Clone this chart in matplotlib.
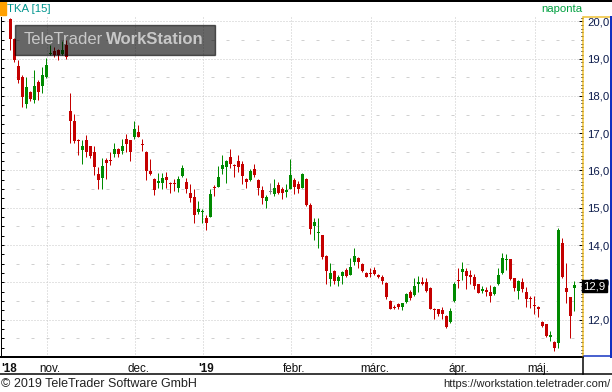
import numpy as np
import matplotlib.pyplot as plt
from matplotlib.lines import Line2D
from matplotlib.patches import Rectangle

plt.rcParams['font.family'] = ['Liberation Sans', 'DejaVu Sans']
plt.rcParams['lines.scale_dashes'] = False

# daily OHLC, TKA, Oct 2018 - May 2019 (one entry per trading day)
opens = [20.06, 19.53, 18.80, 18.51, 17.78, 18.10, 17.89, 18.37, 18.27, 18.51,
         19.13, 19.20, 19.23, 19.12, 19.36, 17.60, 17.33, 16.81, 16.55, 16.82,
         16.66, 16.49, 15.91, 15.79, 16.28, 16.28, 16.44, 16.58, 16.52, 16.84,
         16.82, 16.91, 17.02, 16.72, 16.50, 15.99, 15.77, 15.66, 15.66, 15.83,
         15.66, 15.66, 15.54, 15.85, 15.70, 15.39, 15.28, 14.90, 14.88, 14.73,
         14.76, 15.57, 15.57, 16.04, 16.10, 16.37, 16.15, 16.25, 16.17, 15.77,
         15.74, 16.04, 15.74, 15.48, 15.19, 15.42, 15.37, 15.61, 15.50, 15.43,
         15.50, 15.74, 15.64, 15.54, 15.77, 15.07, 14.52, 14.32, 14.27, 13.71,
         13.09, 13.30, 13.04, 13.17, 13.33, 13.20, 13.55, 13.66, 13.49, 13.26,
         13.25, 13.33, 13.20, 13.14, 12.99, 12.50, 12.33, 12.41, 12.35, 12.48,
         12.75, 12.66, 12.95, 13.00, 13.00, 12.86, 12.28, 12.28, 12.26, 12.11,
         11.93, 12.51, 13.05, 13.29, 13.30, 13.20, 13.15, 12.95, 12.77, 12.79,
         12.75, 12.68, 12.96, 13.26, 13.59, 13.62, 13.11, 12.78, 13.02, 12.75,
         12.57, 12.39, 12.35, 11.94, 11.88, 11.54, 11.41, 11.38, 14.06, 12.84,
         12.60, 12.85]
highs = [20.08, 19.55, 18.96, 18.55, 18.51, 18.12, 18.69, 18.43, 18.77, 19.02,
         19.36, 19.31, 19.25, 19.47, 19.50, 18.08, 17.51, 16.84, 16.82, 16.95,
         16.67, 16.66, 16.10, 16.33, 16.33, 16.50, 16.75, 16.59, 16.84, 16.98,
         16.83, 17.33, 17.22, 16.84, 16.53, 16.31, 15.79, 15.94, 15.92, 15.97,
         15.70, 15.76, 15.85, 16.15, 15.79, 15.63, 15.50, 15.18, 14.96, 14.82,
         15.50, 15.61, 16.12, 16.41, 16.28, 16.58, 16.17, 16.41, 16.25, 15.81,
         16.04, 16.17, 15.77, 15.59, 15.34, 15.67, 15.77, 15.70, 15.57, 15.64,
         16.31, 15.81, 15.72, 15.94, 15.79, 15.14, 14.72, 14.73, 14.28, 13.73,
         13.53, 13.33, 13.19, 13.30, 13.39, 13.66, 13.93, 13.69, 13.51, 13.28,
         13.39, 13.40, 13.22, 13.20, 13.02, 12.53, 12.39, 12.45, 12.45, 12.72,
         12.80, 13.13, 13.17, 13.15, 13.11, 12.88, 12.32, 12.30, 12.35, 12.13,
         12.32, 13.00, 13.38, 13.55, 13.38, 13.33, 13.22, 12.97, 12.91, 12.88,
         12.93, 12.90, 13.38, 13.79, 13.75, 13.63, 13.13, 13.06, 13.13, 12.88,
         12.63, 12.63, 12.37, 11.96, 11.89, 11.69, 11.43, 14.47, 14.18, 13.53,
         12.61, 13.03]
lows = [19.23, 18.91, 18.35, 17.71, 17.68, 17.86, 17.81, 17.89, 18.08, 18.48,
        19.10, 19.04, 18.96, 19.10, 18.99, 16.74, 16.75, 16.42, 16.17, 16.37,
        16.33, 15.88, 15.50, 15.50, 15.77, 16.15, 16.37, 16.35, 16.43, 16.50,
        16.26, 16.84, 16.89, 16.53, 15.75, 15.88, 15.34, 15.52, 15.50, 15.52,
        15.40, 15.46, 15.43, 15.83, 15.39, 15.16, 14.58, 14.83, 14.60, 14.40,
        14.74, 15.32, 15.57, 15.91, 15.67, 16.07, 15.83, 15.97, 15.65, 15.54,
        15.72, 15.83, 15.34, 15.10, 15.00, 15.37, 15.32, 15.37, 15.24, 15.30,
        15.50, 15.36, 15.39, 15.52, 15.05, 14.30, 14.14, 13.93, 13.63, 12.95,
        12.90, 12.96, 12.90, 12.96, 13.15, 13.20, 13.47, 13.39, 13.29, 13.14,
        13.15, 13.20, 13.11, 12.96, 12.56, 12.28, 12.28, 12.30, 12.26, 12.45,
        12.53, 12.63, 12.75, 12.93, 12.75, 12.29, 12.02, 12.10, 12.02, 11.77,
        11.90, 12.48, 12.84, 13.06, 12.81, 12.95, 12.82, 12.71, 12.71, 12.64,
        12.48, 12.66, 12.93, 13.22, 13.33, 13.06, 12.78, 12.55, 12.73, 12.35,
        12.32, 12.15, 12.08, 11.81, 11.53, 11.44, 11.17, 11.25, 13.13, 12.44,
        11.52, 12.24]
closes = [19.52, 18.96, 18.43, 17.98, 18.24, 17.92, 18.27, 18.10, 18.56, 18.83,
          19.16, 19.10, 19.10, 19.23, 19.04, 17.33, 16.80, 16.78, 16.66, 16.50,
          16.40, 16.10, 15.75, 16.12, 16.21, 16.26, 16.57, 16.44, 16.66, 16.71,
          16.50, 17.11, 16.91, 16.69, 15.99, 15.90, 15.48, 15.73, 15.79, 15.75,
          15.63, 15.63, 15.77, 16.07, 15.50, 15.25, 14.81, 14.96, 14.91, 14.60,
          15.37, 15.54, 15.83, 16.15, 16.25, 16.17, 16.13, 16.10, 15.86, 15.70,
          15.99, 15.88, 15.54, 15.27, 15.30, 15.42, 15.52, 15.39, 15.40, 15.48,
          15.88, 15.56, 15.50, 15.91, 15.07, 14.42, 14.63, 14.34, 13.69, 13.31,
          13.24, 13.04, 13.15, 13.29, 13.17, 13.42, 13.71, 13.55, 13.31, 13.15,
          13.23, 13.22, 13.14, 13.05, 12.62, 12.30, 12.32, 12.35, 12.44, 12.69,
          12.57, 12.90, 13.00, 12.95, 12.77, 12.30, 12.26, 12.15, 12.14, 11.80,
          12.23, 12.97, 13.04, 13.35, 13.17, 13.15, 12.90, 12.72, 12.82, 12.75,
          12.64, 12.88, 13.20, 13.66, 13.60, 13.08, 12.86, 13.04, 12.82, 12.55,
          12.55, 12.37, 12.28, 11.84, 11.56, 11.59, 11.25, 14.40, 13.15, 12.75,
          12.11, 12.92]

# index of the first trading day of each month
month_start = [10, 32, 49, 71, 91, 112, 132]
month_labels = ["nov.", "dec.", "'19", "febr.", "márc.", "ápr.", "máj."]
price_ticks = [12, 13, 14, 15, 16, 17, 18, 19, 20]
last_price = 12.9

W, H = 612, 392
PX = 0.72  # one pixel in points at 100 dpi

fig = plt.figure(figsize=(W / 100, H / 100), dpi=100)
fig.patch.set_facecolor('white')

def fx(px):
    return px / W

def fy(py):
    return 1 - py / H

ax = fig.add_axes([fx(1), fy(357), fx(582), 340 / H])
ax.set_xlim(-2.325, 143.175)
ax.set_ylim(11.0, 20.115)

# grid
for p in price_ticks:
    ax.axhline(p, color='#c8c8c8', lw=PX, ls=(0, (PX, 2 * PX)), zorder=0)
    ax.axhline(p - 0.5, color='#d0d0d0', lw=PX, ls=(0, (3 * PX, 12 * PX)), zorder=0)
for m in month_start:
    ax.axvline(m - 0.75, color='#c8c8c8', lw=PX, ls=(0, (PX, 2 * PX)), zorder=0)

# candles
o = np.array(opens)
h = np.array(highs)
l = np.array(lows)
c = np.array(closes)
x = np.arange(len(o))
cols = np.where(c > o, '#008a00', np.where(c < o, '#c40000', '#808080'))
ax.vlines(x, l, h, colors=cols, lw=PX, zorder=2)
body = np.maximum(np.abs(c - o), 0.03)
ax.bar(x, body, bottom=np.minimum(o, c), width=0.75, color=cols, lw=0, zorder=3)

# axis styling
ax.spines['top'].set_visible(False)
ax.spines['right'].set_visible(False)
ax.spines['left'].set_color('black')
ax.spines['left'].set_linewidth(PX)
ax.spines['bottom'].set_color('black')
ax.spines['bottom'].set_linewidth(2 * PX)
ax.set_yticks(np.arange(11.25, 20.1, 0.25))
ax.set_yticklabels([])
ax.tick_params(axis='y', direction='in', length=3 * PX, width=PX, color='black', left=True, right=False)

ax.set_xticks([-0.3] + month_start)
ax.set_xticklabels(["'18"] + month_labels, fontsize=8.4, color='#111111')
for t in ax.get_xticklabels():
    if t.get_text().startswith("'"):
        t.set_fontweight('bold')
ax.tick_params(axis='x', length=0, pad=4)

axr = ax.twinx()
axr.set_ylim(ax.get_ylim())
axr.set_xlim(ax.get_xlim())
for s in ['top', 'left', 'bottom']:
    axr.spines[s].set_visible(False)
axr.spines['right'].set_color('#f0c030')
axr.spines['right'].set_linewidth(1.5 * PX)
axr.set_yticks(price_ticks)
axr.set_yticklabels([f"{p:.1f}".replace('.', ',') for p in price_ticks], fontsize=8.2, color='#0b1a4a')
axr.set_yticks(np.arange(11.1, 20.1, 0.1), minor=True)
axr.tick_params(axis='y', which='major', direction='in', length=4 * PX, width=PX, color='black', pad=3)
axr.tick_params(axis='y', which='minor', direction='in', length=2.5 * PX, width=PX, color='black')

# last price box
axr.text(1.0, last_price, f"{last_price:.1f}".replace('.', ','), transform=axr.get_yaxis_transform(),
         fontsize=8.2, color='white', ha='left', va='center', zorder=10,
         bbox=dict(boxstyle='square,pad=0.12', fc='black', ec='black'))

# frame lines
lines = [
    ((0, W), (0.5, 0.5), 'black', 2),
    ((0, W), (374, 374), 'black', 1.5),
    ((583, 583), (357, 374), 'black', 1.5),
    ((584, 611), (17, 17), '#f0c030', 1.5),
    ((611, 611), (17, 357), '#1030c0', 2),
    ((584, 611), (356, 356), '#1030c0', 1.5),
]
for xs, ys, col, lw in lines:
    fig.add_artist(Line2D([fx(v) for v in xs], [fy(v) for v in ys], color=col, lw=lw * PX,
                          transform=fig.transFigure))

fig.add_artist(Rectangle((0, fy(15)), fx(6), 15 / H, color='#ffa000', transform=fig.transFigure))
fig.text(fx(7), fy(9), "TKA [15]", fontsize=8.2, color='#00958f', va='center')
fig.text(fx(582), fy(9), "naponta", fontsize=8.2, color='#00a040', va='center', ha='right')

# watermark
fig.add_artist(Rectangle((fx(15), fy(55)), fx(200), 30 / H, color='black', alpha=0.6,
                         transform=fig.transFigure, zorder=5))
fig.text(fx(24), fy(40), "TeleTrader", fontsize=12, color='#c8c8c8', va='center', zorder=6)
fig.text(fx(106), fy(40), "WorkStation", fontsize=12, color='#c8c8c8', va='center',
         fontweight='bold', zorder=6)

# footer
fig.text(fx(1), fy(384), "© 2019 TeleTrader Software GmbH", fontsize=9, color='#222222', va='center')
fig.text(fx(611), fy(384), "https://workstation.teletrader.com/", fontsize=8, color='#222222',
         va='center', ha='right')

fig.savefig('out.png', dpi=100)
